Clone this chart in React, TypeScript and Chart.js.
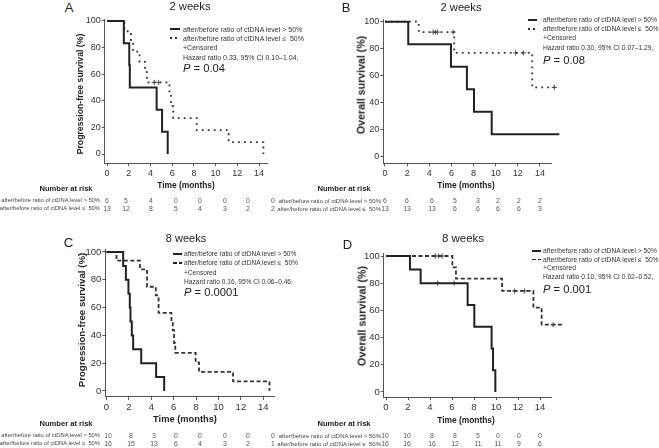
import React, { useEffect, useRef } from "react";
import { Chart, registerables } from "chart.js";
Chart.register(...registerables);

const FONT = "'Liberation Sans', Arial, Helvetica, sans-serif";
const AXIS = "#555";
const INK = "#222";

const xTickValues = [0, 2, 4, 6, 8, 10, 12, 14];
const yTickValues = [0, 20, 40, 60, 80, 100];

const labelHigh = "after/before ratio of ctDNA level > 50%";
const labelLow = "after/before ratio of ctDNA level \u2264  50%";

// Panel A: progression-free survival, 2 weeks
const aHighTime = [0, 1.55, 2.05, 2.1, 4.57, 5.07, 5.59];
const aHighSurv = [100, 83.3, 66.7, 50, 33.3, 16.7, 0];
const aLowTime = [0, 1.6, 2.2, 2.4, 3.0, 3.5, 3.68, 5.75, 5.9, 6.1, 8.26, 11.2, 14.4];
const aLowSurv = [100, 92.3, 84.6, 76.9, 69.2, 61.5, 53.8, 44.8, 35.9, 26.9, 17.9, 9.0, 0];
const aLowCensorTime = [4.35, 4.75];
const aLowCensorSurv = [53.8, 53.8];
const aRiskHigh = [6, 5, 4, 0, 0, 0, 0, 0];
const aRiskLow = [13, 12, 8, 5, 4, 3, 2, 2];

// Panel B: overall survival, 2 weeks
const bHighTime = [0, 2.1, 5.96, 7.4, 8.04, 9.64, 15.75];
const bHighSurv = [100, 83.3, 66.7, 50, 33.3, 16.7, 16.7];
const bHighCensorTime = [15.75];
const bHighCensorSurv = [16.7];
const bLowTime = [0, 3.05, 6.25, 13.3, 15.3];
const bLowSurv = [100, 92.3, 76.9, 51.3, 51.3];
const bLowCensorTime = [4.35, 4.55, 4.75, 6.15, 11.8, 12.5, 15.3];
const bLowCensorSurv = [92.3, 92.3, 92.3, 92.3, 76.9, 76.9, 51.3];
const bRiskHigh = [6, 6, 6, 5, 3, 2, 2, 2];
const bRiskLow = [13, 13, 13, 6, 6, 6, 6, 3];

// Panel C: progression-free survival, 8 weeks
const cHighTime = [0, 1.49, 1.73, 1.96, 2.08, 2.14, 2.26, 2.38, 3.1, 4.43, 5.15];
const cHighSurv = [100, 90, 80, 70, 60, 50, 40, 30, 20, 10, 0];
const cLowTime = [0, 0.89, 2.99, 3.62, 4.4, 4.65, 5.8, 5.92, 6.03, 6.14, 7.96, 8.26, 11.3, 14.55];
const cLowSurv = [100, 93.75, 87.5, 75, 68.75, 56.25, 50, 43.75, 34.4, 27.5, 20.6, 13.75, 6.9, 0];
const cRiskHigh = [10, 8, 3, 0, 0, 0, 0, 0];
const cRiskLow = [16, 15, 13, 6, 4, 3, 2, 1];

// Panel D: overall survival, 8 weeks
const dHighTime = [0, 2.18, 3.15, 7.42, 8.03, 9.6, 9.73, 9.94];
const dHighSurv = [100, 90, 80, 64, 48, 32, 16, 0];
const dHighCensorTime = [4.7, 6.2];
const dHighCensorSurv = [80, 80];
const dLowTime = [0, 6.03, 6.36, 10.55, 13.4, 14.15, 16.06];
const dLowSurv = [100, 91.7, 83.3, 74.3, 62, 49.5, 49.5];
const dLowCensorTime = [4.5, 4.8, 5.1, 11.7, 12.6, 15.2, 15.8];
const dLowCensorSurv = [100, 100, 100, 74.3, 74.3, 49.5, 49.5];
const dRiskHigh = [10, 10, 8, 8, 5, 0, 0, 0];
const dRiskLow = [16, 16, 16, 12, 11, 11, 9, 6];

type Series = { time: number[]; surv: number[]; style: "solid" | "dot" | "dash" };
type Censor = { time: number[]; surv: number[] };

type PanelCfg = {
  letter: string; letterX: number; letterY: number;
  title: string; titleX: number; titleY: number; titleSize: number;
  yTitle: string; yTitleX: number; yTitleY: number; yTitleSize: number;
  xTitleX: number; xTitleY: number; xTitleSize: number;
  x0: number; ppm: number; xMin: number; xMax: number;
  y100: number; y0: number; yMin: number; yMax: number;
  tickSize: number;
  series: Series[]; censors: Censor[];
  legend: { sampleX: number; sampleW: number; textX: number; ys: number[]; pY: number; fs: number; low: "dot" | "dash"; hazard: string; p: string };
  risk: { nX: number; nY: number; labelRight: number; labelSize: number; rowYs: number[]; cols: number[]; high: number[]; low: number[] };
};

const panels: PanelCfg[] = [
  {
    letter: "A", letterX: 69, letterY: 7, title: "2 weeks", titleX: 190, titleY: 7, titleSize: 11.2,
    yTitle: "Progression-free survival (%)", yTitleX: 80, yTitleY: 93.5, yTitleSize: 8.7,
    xTitleX: 186, xTitleY: 185, xTitleSize: 8.4,
    x0: 107, ppm: 10.86, xMin: -0.2, xMax: 14.8, y100: 21, y0: 154, yMin: -6.8, yMax: 101.5, tickSize: 9,
    series: [
      { time: aHighTime, surv: aHighSurv, style: "solid" },
      { time: aLowTime, surv: aLowSurv, style: "dot" },
    ],
    censors: [{ time: aLowCensorTime, surv: aLowCensorSurv }],
    legend: { sampleX: 170, sampleW: 10, textX: 183, ys: [29, 38, 47, 57], pY: 68.5, fs: 7, low: "dot", hazard: "Hazard ratio 0.33, 95% CI 0.10\u20131.04,", p: "0.04" },
    risk: { nX: 66, nY: 189, labelRight: 100, labelSize: 5.8, rowYs: [201, 209], cols: [107, 126, 151, 176, 200, 225, 248, 273], high: aRiskHigh, low: aRiskLow },
  },
  {
    letter: "B", letterX: 346, letterY: 7, title: "2 weeks", titleX: 461, titleY: 7.5, titleSize: 11.2,
    yTitle: "Overall survival (%)", yTitleX: 361, yTitleY: 85, yTitleSize: 10.6,
    xTitleX: 466, xTitleY: 185, xTitleSize: 8.4,
    x0: 385, ppm: 11.07, xMin: -0.15, xMax: 15, y100: 21.7, y0: 156.7, yMin: -4.9, yMax: 101.5, tickSize: 9,
    series: [
      { time: bHighTime, surv: bHighSurv, style: "solid" },
      { time: bLowTime, surv: bLowSurv, style: "dot" },
    ],
    censors: [{ time: bHighCensorTime, surv: bHighCensorSurv }, { time: bLowCensorTime, surv: bLowCensorSurv }],
    legend: { sampleX: 528, sampleW: 9, textX: 543, ys: [20, 29, 38, 47.5], pY: 61, fs: 6.7, low: "dot", hazard: "Hazard ratio 0.30, 95% CI 0.07\u20131.29,", p: "0.08" },
    risk: { nX: 344, nY: 189, labelRight: 381, labelSize: 6, rowYs: [201, 209], cols: [385, 407, 432, 455, 478, 498, 519, 540], high: bRiskHigh, low: bRiskLow },
  },
  {
    letter: "C", letterX: 68.5, letterY: 242, title: "8 weeks", titleX: 186, titleY: 237.5, titleSize: 11,
    yTitle: "Progression-free survival (%)", yTitleX: 82, yTitleY: 320, yTitleSize: 9.7,
    xTitleX: 185, xTitleY: 420, xTitleSize: 9.3,
    x0: 106.5, ppm: 11.2, xMin: -0.1, xMax: 15, y100: 252, y0: 391, yMin: -4.3, yMax: 101.5, tickSize: 9.5,
    series: [
      { time: cHighTime, surv: cHighSurv, style: "solid" },
      { time: cLowTime, surv: cLowSurv, style: "dash" },
    ],
    censors: [],
    legend: { sampleX: 173, sampleW: 9, textX: 184, ys: [254, 263, 272.5, 282], pY: 293, fs: 6.6, low: "dash", hazard: "Hazard ratio 0.16, 95% CI 0.06\u20130.46,", p: "0.0001" },
    risk: { nX: 66, nY: 424, labelRight: 100, labelSize: 5.8, rowYs: [436, 444], cols: [108, 131, 154, 176, 200, 225, 248, 273], high: cRiskHigh, low: cRiskLow },
  },
  {
    letter: "D", letterX: 347.5, letterY: 244, title: "8 weeks", titleX: 463, titleY: 239, titleSize: 11.5,
    yTitle: "Overall survival (%)", yTitleX: 362, yTitleY: 316, yTitleSize: 10.8,
    xTitleX: 466, xTitleY: 420, xTitleSize: 8.4,
    x0: 386, ppm: 11.0, xMin: -0.2, xMax: 15, y100: 256, y0: 392, yMin: -3.7, yMax: 101.5, tickSize: 9.5,
    series: [
      { time: dHighTime, surv: dHighSurv, style: "solid" },
      { time: dLowTime, surv: dLowSurv, style: "dash" },
    ],
    censors: [{ time: dHighCensorTime, surv: dHighCensorSurv }, { time: dLowCensorTime, surv: dLowCensorSurv }],
    legend: { sampleX: 532, sampleW: 9, textX: 543, ys: [251, 259.5, 268, 277], pY: 290, fs: 6.7, low: "dash", hazard: "Hazard ratio 0.10, 95% CI 0.02\u20130.52,", p: "0.001" },
    risk: { nX: 344, nY: 424, labelRight: 381, labelSize: 6, rowYs: [436, 444], cols: [385, 407, 432, 455, 478, 498, 519, 540], high: dRiskHigh, low: dRiskLow },
  },
];

function geom(c: PanelCfg) {
  const ppp = (c.y0 - c.y100) / 100;
  const areaLeft = c.x0 + c.xMin * c.ppm;
  const areaRight = c.x0 + c.xMax * c.ppm;
  const areaTop = c.y100 - (c.yMax - 100) * ppp;
  const areaBottom = c.y0 - c.yMin * ppp;
  let dataMax = c.xMax;
  c.series.forEach((s) => s.time.forEach((t) => (dataMax = Math.max(dataMax, t))));
  const left = Math.floor(areaLeft - 30);
  const top = Math.floor(areaTop - 8);
  const right = Math.ceil(c.x0 + dataMax * c.ppm + 6);
  const bottom = Math.ceil(areaBottom + 18);
  return {
    left, top, width: right - left, height: bottom - top,
    yW: areaLeft - left, xH: bottom - areaBottom, padTop: areaTop - top, padRight: right - areaRight,
  };
}

const dashFor = (style: string) => (style === "dot" ? [1.8, 4.2] : style === "dash" ? [4, 2.5] : []);

function KMChart({ c }: { c: PanelCfg }) {
  const ref = useRef<HTMLCanvasElement>(null);
  const g = geom(c);
  useEffect(() => {
    if (!ref.current) return;
    const datasets: any[] = [];
    c.series.forEach((s) => {
      datasets.push({
        data: s.time.map((t, i) => ({ x: t, y: s.surv[i] })),
        stepped: true,
        borderColor: s.style === "solid" ? INK : "#333",
        borderWidth: s.style === "solid" ? 2 : 1.8,
        borderDash: dashFor(s.style),
        borderCapStyle: "butt",
        pointRadius: 0,
        fill: false,
        clip: false,
      });
    });
    c.censors.forEach((k) => {
      datasets.push({
        data: k.time.map((t, i) => ({ x: t, y: k.surv[i] })),
        showLine: false,
        pointStyle: "cross",
        pointRadius: 2.6,
        pointBorderWidth: 1,
        pointBorderColor: "#555",
        borderColor: "#555",
        clip: false,
      });
    });
    const tickFont = { size: c.tickSize, family: FONT };
    const chart = new Chart(ref.current, {
      type: "line",
      data: { datasets },
      options: {
        responsive: false,
        animation: false,
        devicePixelRatio: 1,
        events: [],
        layout: { padding: { top: g.padTop, right: g.padRight, left: 0, bottom: 0 } },
        plugins: { legend: { display: false }, tooltip: { enabled: false }, title: { display: false } },
        scales: {
          x: {
            type: "linear",
            min: c.xMin,
            max: c.xMax,
            afterBuildTicks: (s: any) => { s.ticks = xTickValues.map((v) => ({ value: v })); },
            afterFit: (s: any) => { s.height = g.xH; s.paddingLeft = 0; s.paddingRight = 0; s.paddingTop = 0; s.paddingBottom = 0; },
            ticks: { font: tickFont, color: "#333", padding: 2, maxRotation: 0, autoSkip: false, callback: (v: any) => String(v) },
            grid: { display: true, drawOnChartArea: false, drawTicks: true, tickLength: 3, color: AXIS, lineWidth: 1 },
            border: { display: true, color: AXIS, width: 1 },
          },
          y: {
            type: "linear",
            min: c.yMin,
            max: c.yMax,
            afterBuildTicks: (s: any) => { s.ticks = yTickValues.map((v) => ({ value: v })); },
            afterFit: (s: any) => { s.width = g.yW; s.paddingLeft = 0; s.paddingRight = 0; s.paddingTop = 0; s.paddingBottom = 0; },
            ticks: { font: tickFont, color: "#333", padding: 1, autoSkip: false, callback: (v: any) => String(v) },
            grid: { display: true, drawOnChartArea: false, drawTicks: true, tickLength: 3, color: AXIS, lineWidth: 1 },
            border: { display: true, color: AXIS, width: 1 },
          },
        },
      } as any,
    });
    return () => chart.destroy();
  }, []);
  return (
    <canvas
      ref={ref}
      width={g.width}
      height={g.height}
      style={{ position: "absolute", left: g.left, top: g.top, width: g.width, height: g.height }}
    />
  );
}

function T(props: { x: number; y: number; s: number; children: any; align?: string; bold?: boolean; italic?: boolean; color?: string; rotate?: boolean }) {
  const { x, y, s, children, align = "left", bold, color = "#333", rotate } = props;
  const tx = align === "center" ? "-50%" : align === "right" ? "-100%" : "0";
  return (
    <div
      style={{
        position: "absolute", left: x, top: y, fontSize: s, lineHeight: 1, whiteSpace: "pre",
        fontWeight: bold ? 700 : 400, color, fontFamily: FONT,
        transform: rotate ? "translate(-50%,-50%) rotate(-90deg)" : `translate(${tx},-50%)`,
      }}
    >
      {children}
    </div>
  );
}

function Sample({ x, y, w, style }: { x: number; y: number; w: number; style: string }) {
  const bg =
    style === "solid" ? INK
      : style === "dot" ? "repeating-linear-gradient(90deg, #333 0 1.8px, transparent 1.8px 5px)"
      : "repeating-linear-gradient(90deg, #222 0 4px, transparent 4px 6px)";
  return <div style={{ position: "absolute", left: x, top: y - 1, width: w, height: style === "solid" ? 2 : 1.8, background: bg }} />;
}

function PanelText({ c }: { c: PanelCfg }) {
  const L = c.legend;
  const R = c.risk;
  return (
    <>
      <T x={c.letterX} y={c.letterY} s={13} align="center" color={INK}>{c.letter}</T>
      <T x={c.titleX} y={c.titleY} s={c.titleSize} align="center" color={INK}>{c.title}</T>
      <T x={c.yTitleX} y={c.yTitleY} s={c.yTitleSize} bold rotate color={INK}>{c.yTitle}</T>
      <T x={c.xTitleX} y={c.xTitleY} s={c.xTitleSize} bold align="center" color={INK}>Time (months)</T>

      <Sample x={L.sampleX} y={L.ys[0]} w={L.sampleW} style="solid" />
      <Sample x={L.sampleX} y={L.ys[1]} w={L.sampleW} style={L.low} />
      <T x={L.textX} y={L.ys[0]} s={L.fs}>{labelHigh}</T>
      <T x={L.textX} y={L.ys[1]} s={L.fs}>{labelLow}</T>
      <T x={L.textX} y={L.ys[2]} s={L.fs}>+Censored</T>
      <T x={L.textX} y={L.ys[3]} s={L.fs}>{L.hazard}</T>
      <T x={L.textX} y={L.pY} s={11.2} color={INK}>
        <span style={{ fontStyle: "italic" }}>P</span>{" = " + L.p}
      </T>

      <T x={R.nX} y={R.nY} s={7.6} bold align="center" color={INK}>Number at risk</T>
      <T x={R.labelRight} y={R.rowYs[0]} s={R.labelSize} align="right" color="#444">{labelHigh}</T>
      <T x={R.labelRight} y={R.rowYs[1]} s={R.labelSize} align="right" color="#444">{labelLow}</T>
      {R.high.map((n, i) => (
        <T key={"h" + i} x={R.cols[i]} y={R.rowYs[0]} s={6.8} align="center" color="#555">{String(n)}</T>
      ))}
      {R.low.map((n, i) => (
        <T key={"l" + i} x={R.cols[i]} y={R.rowYs[1]} s={6.8} align="center" color="#555">{String(n)}</T>
      ))}
    </>
  );
}

export default function App() {
  return (
    <div style={{ position: "fixed", left: 0, top: 0, width: 659, height: 448, background: "#fff", overflow: "hidden" }}>
      {panels.map((c, i) => <KMChart key={"c" + i} c={c} />)}
      {panels.map((c, i) => <PanelText key={"t" + i} c={c} />)}
    </div>
  );
}
